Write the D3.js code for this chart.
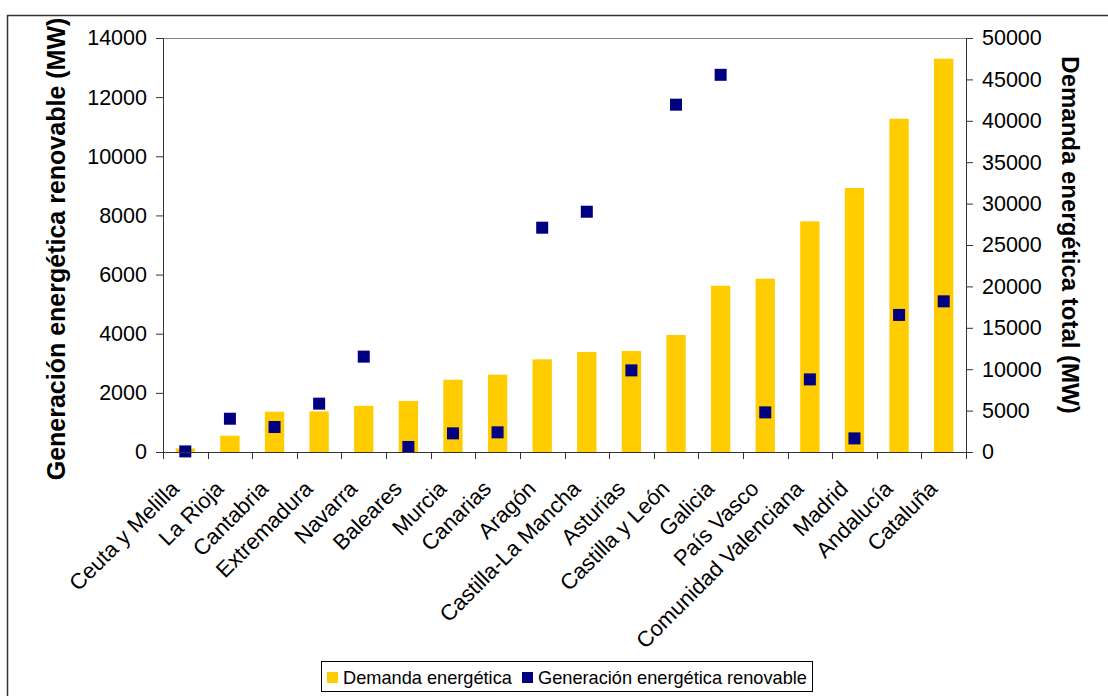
<!DOCTYPE html>
<html>
<head>
<meta charset="utf-8">
<script src="https://cdn.jsdelivr.net/npm/d3@7"></script>
<style>
  html, body { margin: 0; padding: 0; background: #fff; }
  svg { display: block; font-family: "Liberation Sans", Arial, sans-serif; }
</style>
</head>
<body>
<svg id="chart" width="1108" height="696"></svg>
<script>
// Comunidades autónomas, ordered by total energy demand
const categories = ["Ceuta y Melilla", "La Rioja", "Cantabria", "Extremadura", "Navarra", "Baleares",
  "Murcia", "Canarias", "Aragón", "Castilla-La Mancha", "Asturias", "Castilla y León", "Galicia",
  "País Vasco", "Comunidad Valenciana", "Madrid", "Andalucía", "Cataluña"];

// Demanda energética total (MW) — right axis, bars
const demanda = [430, 1970, 4870, 4900, 5570, 6160, 8730, 9340, 11190, 12080, 12200, 14130,
  20080, 20930, 27850, 31880, 40250, 47500];

// Generación energética renovable (MW) — left axis, square markers
const generacion = [20, 1125, 845, 1635, 3225, 170, 630, 665, 7585, 8125, 2760, 11745,
  12755, 1340, 2455, 460, 4635, 5095];

const leftTicks = [0, 2000, 4000, 6000, 8000, 10000, 12000, 14000];
const rightTicks = [0, 5000, 10000, 15000, 20000, 25000, 30000, 35000, 40000, 45000, 50000];

const seriesNames = ["Demanda energética", "Generación energética renovable"];
const colors = { demanda: "#FFCC00", generacion: "#000080" };

const svg = d3.select("#chart");

// outer chart frame (runs past the right and bottom edges)
svg.append("rect")
  .attr("x", 7.5).attr("y", 15.5).attr("width", 1120).attr("height", 700)
  .attr("fill", "none").attr("stroke", "#333").attr("stroke-width", 1.5);

const plot = { left: 163, right: 966, top: 38, bottom: 452 };

const x = d3.scaleBand()
  .domain(categories)
  .range([plot.left, plot.right])
  .paddingInner(0.567)
  .paddingOuter(0.2835);

const yLeft = d3.scaleLinear().domain([0, 14000]).range([plot.bottom, plot.top]);
const yRight = d3.scaleLinear().domain([0, 50000]).range([plot.bottom, plot.top]);

// plot area top border
svg.append("line")
  .attr("x1", plot.left).attr("x2", plot.right)
  .attr("y1", plot.top + 0.5).attr("y2", plot.top + 0.5)
  .attr("stroke", "#888").attr("stroke-width", 1);

// bars: demand
svg.append("g").selectAll("rect")
  .data(categories)
  .join("rect")
  .attr("x", d => x(d))
  .attr("width", x.bandwidth())
  .attr("y", (d, i) => yRight(demanda[i]))
  .attr("height", (d, i) => plot.bottom - yRight(demanda[i]))
  .attr("fill", colors.demanda);

// square markers: renewable generation
const ms = 12;
svg.append("g").selectAll("rect")
  .data(categories)
  .join("rect")
  .attr("x", d => x(d) + x.bandwidth() / 2 - ms / 2)
  .attr("y", (d, i) => yLeft(generacion[i]) - ms / 2)
  .attr("width", ms).attr("height", ms)
  .attr("fill", colors.generacion);

// left axis
const gl = svg.append("g")
  .attr("transform", `translate(${plot.left},0)`)
  .call(d3.axisLeft(yLeft).tickValues(leftTicks).tickSize(7).tickPadding(9).tickFormat(d3.format("d")));
gl.select(".domain").attr("stroke", "#333");
gl.selectAll(".tick line").attr("stroke", "#333");
gl.selectAll(".tick text").attr("font-size", 21.5).attr("fill", "#000")
  .attr("font-family", "'Liberation Sans', Arial, sans-serif");

// right axis
const gr = svg.append("g")
  .attr("transform", `translate(${plot.right},0)`)
  .call(d3.axisRight(yRight).tickValues(rightTicks).tickSize(7).tickPadding(9).tickFormat(d3.format("d")));
gr.select(".domain").attr("stroke", "#333");
gr.selectAll(".tick line").attr("stroke", "#333");
gr.selectAll(".tick text").attr("font-size", 21.5).attr("fill", "#000")
  .attr("font-family", "'Liberation Sans', Arial, sans-serif");

// bottom axis: ticks at category boundaries
const boundaries = categories.map((d, i) => plot.left + i * x.step()).concat([plot.right]);
const gb = svg.append("g");
gb.append("line")
  .attr("x1", plot.left).attr("x2", plot.right)
  .attr("y1", plot.bottom + 0.5).attr("y2", plot.bottom + 0.5)
  .attr("stroke", "#333");
gb.selectAll("line.tk")
  .data(boundaries)
  .join("line").attr("class", "tk")
  .attr("x1", d => Math.round(d) + 0.5).attr("x2", d => Math.round(d) + 0.5)
  .attr("y1", plot.bottom).attr("y2", plot.bottom + 7)
  .attr("stroke", "#333");

// rotated category labels
gb.selectAll("text")
  .data(categories)
  .join("text")
  .attr("transform", d => `translate(${x(d) + x.bandwidth() / 2 - 5},${plot.bottom + 38}) rotate(-45)`)
  .attr("text-anchor", "end")
  .attr("font-size", 22)
  .attr("fill", "#000")
  .text(d => d);

// axis titles
svg.append("text")
  .attr("transform", `translate(65,249) rotate(-90)`)
  .attr("text-anchor", "middle")
  .attr("font-size", 25).attr("font-weight", "bold")
  .text("Generación energética renovable (MW)");

svg.append("text")
  .attr("transform", `translate(1062,235) rotate(90)`)
  .attr("text-anchor", "middle")
  .attr("font-size", 24).attr("font-weight", "bold")
  .text("Demanda energética total (MW)");

// legend
const lg = svg.append("g");
lg.append("rect")
  .attr("x", 321.5).attr("y", 661.5).attr("width", 491).attr("height", 30)
  .attr("fill", "#fff").attr("stroke", "#000");
const legendItems = [
  { name: seriesNames[0], color: colors.demanda, sx: 327, tx: 343 },
  { name: seriesNames[1], color: colors.generacion, sx: 522, tx: 538 }
];
legendItems.forEach(it => {
  lg.append("rect").attr("x", it.sx).attr("y", 672).attr("width", 11).attr("height", 11).attr("fill", it.color);
  lg.append("text").attr("x", it.tx).attr("y", 684).attr("font-size", 18.2).attr("fill", "#000").text(it.name);
});
</script>
</body>
</html>
